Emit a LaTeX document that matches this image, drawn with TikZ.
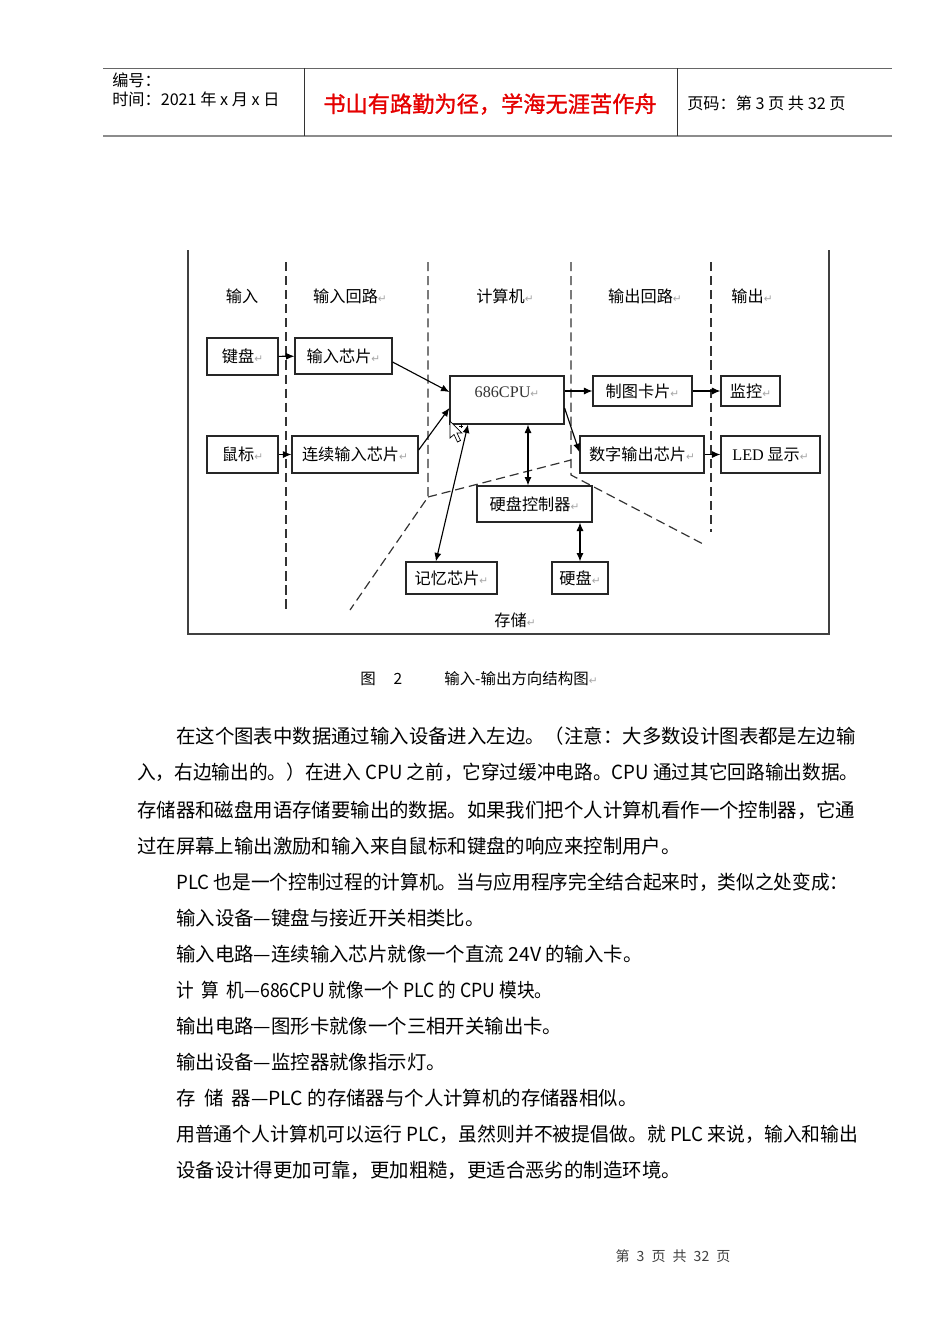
\documentclass[tikz,border=0pt]{standalone}
\usepackage{fontspec}
\usepackage{graphicx}
\usetikzlibrary{arrows.meta}
\setmainfont{Noto Sans CJK SC}
\newfontfamily\serif{Liberation Serif}
\newfontfamily\symfont{DejaVu Sans}
\newfontfamily\redfont[FakeBold=1.2]{Noto Sans CJK SC}
\newcommand{\ret}{{\symfont\color{gray!70}\fontsize{7.5}{7.5}\selectfont ↵}}
\newcommand{\fitline}[2]{\resizebox{#1}{\height}{#2}}

\tikzset{
  box/.style={draw=black!85, line width=0.8pt, inner sep=0pt, font=\fontsize{11.5}{11.5}\selectfont},
  arr/.style={-{Latex[length=6pt,width=5pt]}, line width=0.8pt},
  darr/.style={{Latex[length=6pt,width=5pt]}-{Latex[length=6pt,width=5pt]}, line width=0.8pt},
  divider/.style={dash pattern=on 6.5pt off 3.5pt, line width=0.85pt, black!80},
  colhead/.style={font=\fontsize{11.5}{11.5}\selectfont},
  headtxt/.style={anchor=west, inner sep=0pt, font=\fontsize{11.5}{11.5}\selectfont},
  body/.style={anchor=west, inner sep=0pt, font=\fontsize{13.8}{13.8}\selectfont},
}

\begin{document}
\begin{tikzpicture}[x=0.025cm, y=-0.025cm]
    \fill[white] (0,0) rectangle (950,1344);
    \useasboundingbox (0,0) rectangle (950,1344);

    %Header
        \draw[black!60, line width=0.7pt] (103,68)--(892,68);
        \draw[black!45, line width=1.6pt] (103,136)--(892,136);
        \draw[black!80, line width=0.7pt] (304,68)--(304,136);
        \draw[black!80, line width=0.7pt] (677,68)--(677,136);
        \node[headtxt] (nr) at (112,80) {编号：};
        \node[headtxt] (tid) at (112,99) {时间：2021 年 x 月 x 日};
        \node[inner sep=0pt, text=red!90!black, font=\redfont\fontsize{15.8}{15.8}\selectfont] (motto) at (490,104) {书山有路勤为径，学海无涯苦作舟};
        \node[headtxt] (side) at (687,103) {页码：第 3 页\ 共 32 页};

    %Ramme
        \draw[black!75, line width=0.9pt] (188,250)--(188,634)--(829,634)--(829,250);
        \draw[divider] (286,262)--(286,610);
        \draw[divider] (428,262)--(428,497)--(350,610);
        \draw[divider] (428,497)--(571,460);
        \draw[divider] (571,262)--(571,475)--(705,545);
        \draw[divider] (711,262)--(711,532);

    %Kolonner
        \node[colhead] (hin) at (242,296) {输入};
        \node[colhead] (hinc) at (350,296) {输入回路\ret};
        \node[colhead] (hpc) at (505,296) {计算机\ret};
        \node[colhead] (houtc) at (645,296) {输出回路\ret};
        \node[colhead] (hout) at (752,296) {输出\ret};
        \node[colhead] (hsto) at (515,620) {存储\ret};

    %Bokser
        \node[box, minimum width=1.775cm, minimum height=0.925cm] (kbd) at (242.5,356.5) {键盘\ret};
        \node[box, minimum width=2.425cm, minimum height=0.9cm] (inchip) at (343.5,356) {输入芯片\ret};
        \node[box, minimum width=1.775cm, minimum height=0.925cm] (mouse) at (242.5,454.5) {鼠标\ret};
        \node[box, minimum width=3.15cm, minimum height=0.925cm] (contchip) at (355,454.5) {连续输入芯片\ret};
        \node[box, minimum width=2.85cm, minimum height=1.2cm] (cpu) at (507,400) {};
        \node[inner sep=0pt, font=\serif\fontsize{11.5}{11.5}\selectfont, text=black!80] (cputxt) at ([yshift=0.2cm]cpu.center) {686CPU\ret};
        \node[box, minimum width=2.475cm, minimum height=0.75cm] (chart) at (642.5,391) {制图卡片\ret};
        \node[box, minimum width=1.475cm, minimum height=0.75cm] (monitor) at (750.5,391) {监控\ret};
        \node[box, minimum width=3.1cm, minimum height=0.925cm] (dout) at (642,454.5) {数字输出芯片\ret};
        \node[box, minimum width=2.475cm, minimum height=0.925cm] (led) at (770.5,454.5) {{\serif\fontsize{11.5}{11.5}\selectfont LED} 显示\ret};
        \node[box, minimum width=2.875cm, minimum height=0.9cm] (hdc) at (534.5,504) {硬盘控制器\ret};
        \node[box, minimum width=2.275cm, minimum height=0.8cm] (mem) at (451.5,578) {记忆芯片\ret};
        \node[box, minimum width=1.4cm, minimum height=0.8cm] (hd) at (580,578) {硬盘\ret};

    %Piler
        \draw[arr] (kbd)--(inchip);
        \draw[arr] (mouse)--(contchip);
        \draw[arr] ([yshift=-0.15cm]inchip.east)--([yshift=0.2cm]cpu.west);
        \draw[arr] ([yshift=0.11cm]contchip.east)--([yshift=-0.2cm]cpu.west);
        \draw[darr] ([xshift=-0.975cm]cpu.south)--([xshift=-0.39cm]mem.north);
        \draw[darr] ([xshift=0.525cm]cpu.south)--([xshift=0.525cm]cpu.south |- hdc.north);
        \draw[arr] (cpu.east |- chart.west)--(chart.west);
        \draw[arr] ([yshift=-0.2cm]cpu.east)--([yshift=0.06cm]dout.west);
        \draw[arr] (chart)--(monitor);
        \draw[arr] (dout)--(led);
        \draw[darr] (hd.north |- hdc.south)--(hd.north);

    %Markoer
        \draw[fill=white, line width=0.5pt] (450,421)--(450,438)--(454,434.5)--(457.5,442)--(460.5,440.5)--(457,433)--(462,433)--cycle;
        \draw[line width=0.5pt] (459,426)--(463,426) (461,424)--(461,428);

    %Figurtekst
        \node[font=\fontsize{11}{11}\selectfont] (fig) at (368,679) {图};
        \node[font=\fontsize{11}{11}\selectfont] (fignr) at (398,679) {2};
        \node[anchor=west, inner sep=0pt, font=\fontsize{11}{11}\selectfont] (figtxt) at (444,679) {输入-输出方向结构图\ret};

    %Brodtekst
        \node[body] (p1) at (176,736) {在这个图表中数据通过输入设备进入左边。（注意：大多数设计图表都是左边输};
        \node[body] (p2) at (137,772) {\fitline{18.025cm}{入，右边输出的。）在进入 CPU 之前，它穿过缓冲电路。CPU 通过其它回路输出数据。}};
        \node[body] (p3) at (137,810) {存储器和磁盘用语存储要输出的数据。如果我们把个人计算机看作一个控制器，它通};
        \node[body] (p4) at (137,846) {过在屏幕上输出激励和输入来自鼠标和键盘的响应来控制用户。};
        \node[body] (p5) at (176,882) {\fitline{16.8cm}{PLC 也是一个控制过程的计算机。当与应用程序完全结合起来时，类似之处变成：}};
        \node[body] (p6) at (176,918) {输入设备—键盘与接近开关相类比。};
        \node[body] (p7) at (176,954) {输入电路—连续输入芯片就像一个直流 24V 的输入卡。};
        \node[body] (p8) at (176,990) {\fitline{9.4cm}{计\hspace{6pt}算\hspace{6pt}机—686CPU 就像一个 PLC 的 CPU 模块。}};
        \node[body] (p9) at (176,1026) {输出电路—图形卡就像一个三相开关输出卡。};
        \node[body] (p10) at (176,1062) {输出设备—监控器就像指示灯。};
        \node[body] (p11) at (176,1098) {存\hspace{6pt}储\hspace{6pt}器—PLC 的存储器与个人计算机的存储器相似。};
        \node[body] (p12) at (176,1134) {\fitline{17.05cm}{用普通个人计算机可以运行 PLC，虽然则并不被提倡做。就 PLC 来说，输入和输出}};
        \node[body] (p13) at (176,1170) {设备设计得更加可靠，更加粗糙，更适合恶劣的制造环境。};

    %Bunn
        \node[text=black!75, font=\fontsize{10}{10}\selectfont] (foot) at (673,1256) {第\hspace{5pt}3\hspace{5pt}页\hspace{5pt}共\hspace{5pt}32\hspace{5pt}页};

\end{tikzpicture}
\end{document}
